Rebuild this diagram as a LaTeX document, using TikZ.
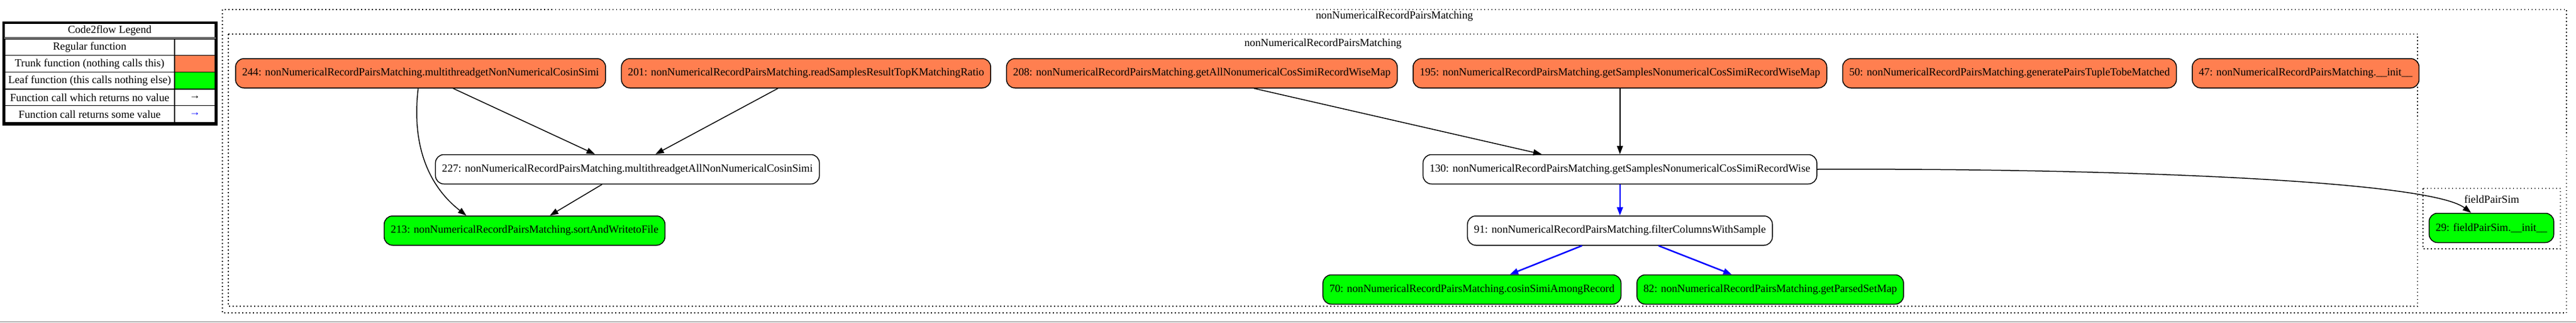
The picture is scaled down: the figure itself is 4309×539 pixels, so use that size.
\documentclass[tikz,border=0pt]{standalone}
\usepackage{fontspec}
\setmainfont{Liberation Serif}
\usepackage{xcolor}
\usetikzlibrary{shapes,arrows.meta,positioning,calc}
\definecolor{trunkcoral}{HTML}{FF7F50}
\definecolor{leafgreen}{HTML}{00FF00}
\newcommand{\flowfont}{\fontsize{18.2pt}{21pt}\selectfont}

\begin{document}
\begin{tikzpicture}[
    x=1pt, y=-1pt,
    node distance=25pt,
    func/.style={rectangle, rounded corners=14pt, draw=black, line width=1.5pt, fill=white, minimum height=49pt, inner xsep=11pt, font=\flowfont},
    trunk/.style={func, fill=trunkcoral},
    leaf/.style={func, fill=leafgreen},
    arrow/.style={-{Triangle[length=14pt,width=10pt]}, line width=1.5pt},
    retarrow/.style={arrow, draw=blue, fill=blue, line width=2.5pt},
    cluster/.style={draw=black, line width=1.5pt, dash pattern=on 1.5pt off 4.5pt},
    clustertitle/.style={font=\flowfont, inner sep=0pt},
    legendtext/.style={font=\flowfont, inner sep=0pt}
]
    \useasboundingbox (0,0) rectangle (4309,539);

    % legend
    \fill[trunkcoral] (292,92.7) rectangle (360,120.7);
    \fill[leafgreen] (292,120.7) rectangle (360,149);
    \draw[line width=3pt] (5,37) rectangle (362.5,208);
    \draw[line width=1.2pt] (7.5,39.5) rectangle (360,62.5);
    \draw[line width=2.5pt] (7.5,65) rectangle (360,205.5);
    \draw[line width=1.5pt] (7.5,92.7) -- (360,92.7) (7.5,120.7) -- (360,120.7)
        (7.5,149) -- (360,149) (7.5,176.7) -- (360,176.7) (292,65) -- (292,205.5);
    \node[legendtext] (legtitle) at (183.5,51) {Code2flow Legend};
    \node[legendtext] (legregular) at (150,79) {Regular function};
    \node[legendtext] (legtrunk) at (150,107) {Trunk function (nothing calls this)};
    \node[legendtext] (legleaf) at (150,135) {Leaf function (this calls nothing else)};
    \node[legendtext] (legnoret) at (150,163) {Function call which returns no value};
    \node[legendtext] (legret) at (150,191) {Function call returns some value};
    \node[legendtext] (arrnoret) at (326,163) {→};
    \node[legendtext, text=blue] (arrret) at (326,191) {→};

    % clusters
    \draw[cluster] (372,16) rectangle (4293,523);
    \draw[cluster] (382,57) rectangle (4044,512);
    \draw[cluster] (4053,315) rectangle (4283,416);
    \node[clustertitle] (filetitle) at (2332.5,27) {nonNumericalRecordPairsMatching};
    \node[clustertitle] (classtitle) at (2213,73) {nonNumericalRecordPairsMatching};
    \node[clustertitle] (simtitle) at (4168,333) {fieldPairSim};

    % functions
    \node[trunk] (n244) at (703.5,122.5) {244: nonNumericalRecordPairsMatching.multithreadgetNonNumericalCosinSimi};
    \node[trunk, right=of n244] (n201) {201: nonNumericalRecordPairsMatching.readSamplesResultTopKMatchingRatio};
    \node[trunk, right=of n201] (n208) {208: nonNumericalRecordPairsMatching.getAllNonumericalCosSimiRecordWiseMap};
    \node[trunk, right=of n208] (n195) {195: nonNumericalRecordPairsMatching.getSamplesNonumericalCosSimiRecordWiseMap};
    \node[trunk, right=of n195] (n50) {50: nonNumericalRecordPairsMatching.generatePairsTupleTobeMatched};
    \node[trunk, right=of n50] (n47) {47: nonNumericalRecordPairsMatching.\_\_init\_\_};
    \node[func, below=110pt of n244, xshift=346pt] (n227) {227: nonNumericalRecordPairsMatching.multithreadgetAllNonNumericalCosinSimi};
    \node[leaf, below=52pt of n227, xshift=-172pt] (n213) {213: nonNumericalRecordPairsMatching.sortAndWritetoFile};
    \node[func, below=110pt of n195] (n130) {130: nonNumericalRecordPairsMatching.getSamplesNonumericalCosSimiRecordWise};
    \node[func, below=52pt of n130] (n91) {91: nonNumericalRecordPairsMatching.filterColumnsWithSample};
    \node[leaf, below=48pt of n91, xshift=-247.5pt] (n70) {70: nonNumericalRecordPairsMatching.cosinSimiAmongRecord};
    \node[leaf, right=of n70] (n82) {82: nonNumericalRecordPairsMatching.getParsedSetMap};
    \node[leaf] (n29) at (4167.5,381) {29: fieldPairSim.\_\_init\_\_};

    % calls
    \draw[arrow] (n244) -- (n227);
    \draw[arrow] ([xshift=-4pt]n244.south) .. controls (688,245) and (718,312) .. ([xshift=-97.5pt]n213.north);
    \draw[arrow] (n201) -- (n227);
    \draw[arrow] (n227) -- (n213);
    \draw[arrow] ([xshift=87pt]n208.south) -- ([xshift=-131pt]n130.north);
    \draw[arrow] (n195) -- (n130);
    \draw[retarrow] (n130) -- (n91);
    \draw[retarrow] (n91) -- (n70);
    \draw[retarrow] (n91) -- (n82);
    \draw[arrow] (n130.east) .. controls (3500,281) and (4060,300) .. ([xshift=-34pt]n29.north);

    \draw[gray!60, line width=2pt] (0,537.5) -- (4309,537.5);
\end{tikzpicture}
\end{document}
